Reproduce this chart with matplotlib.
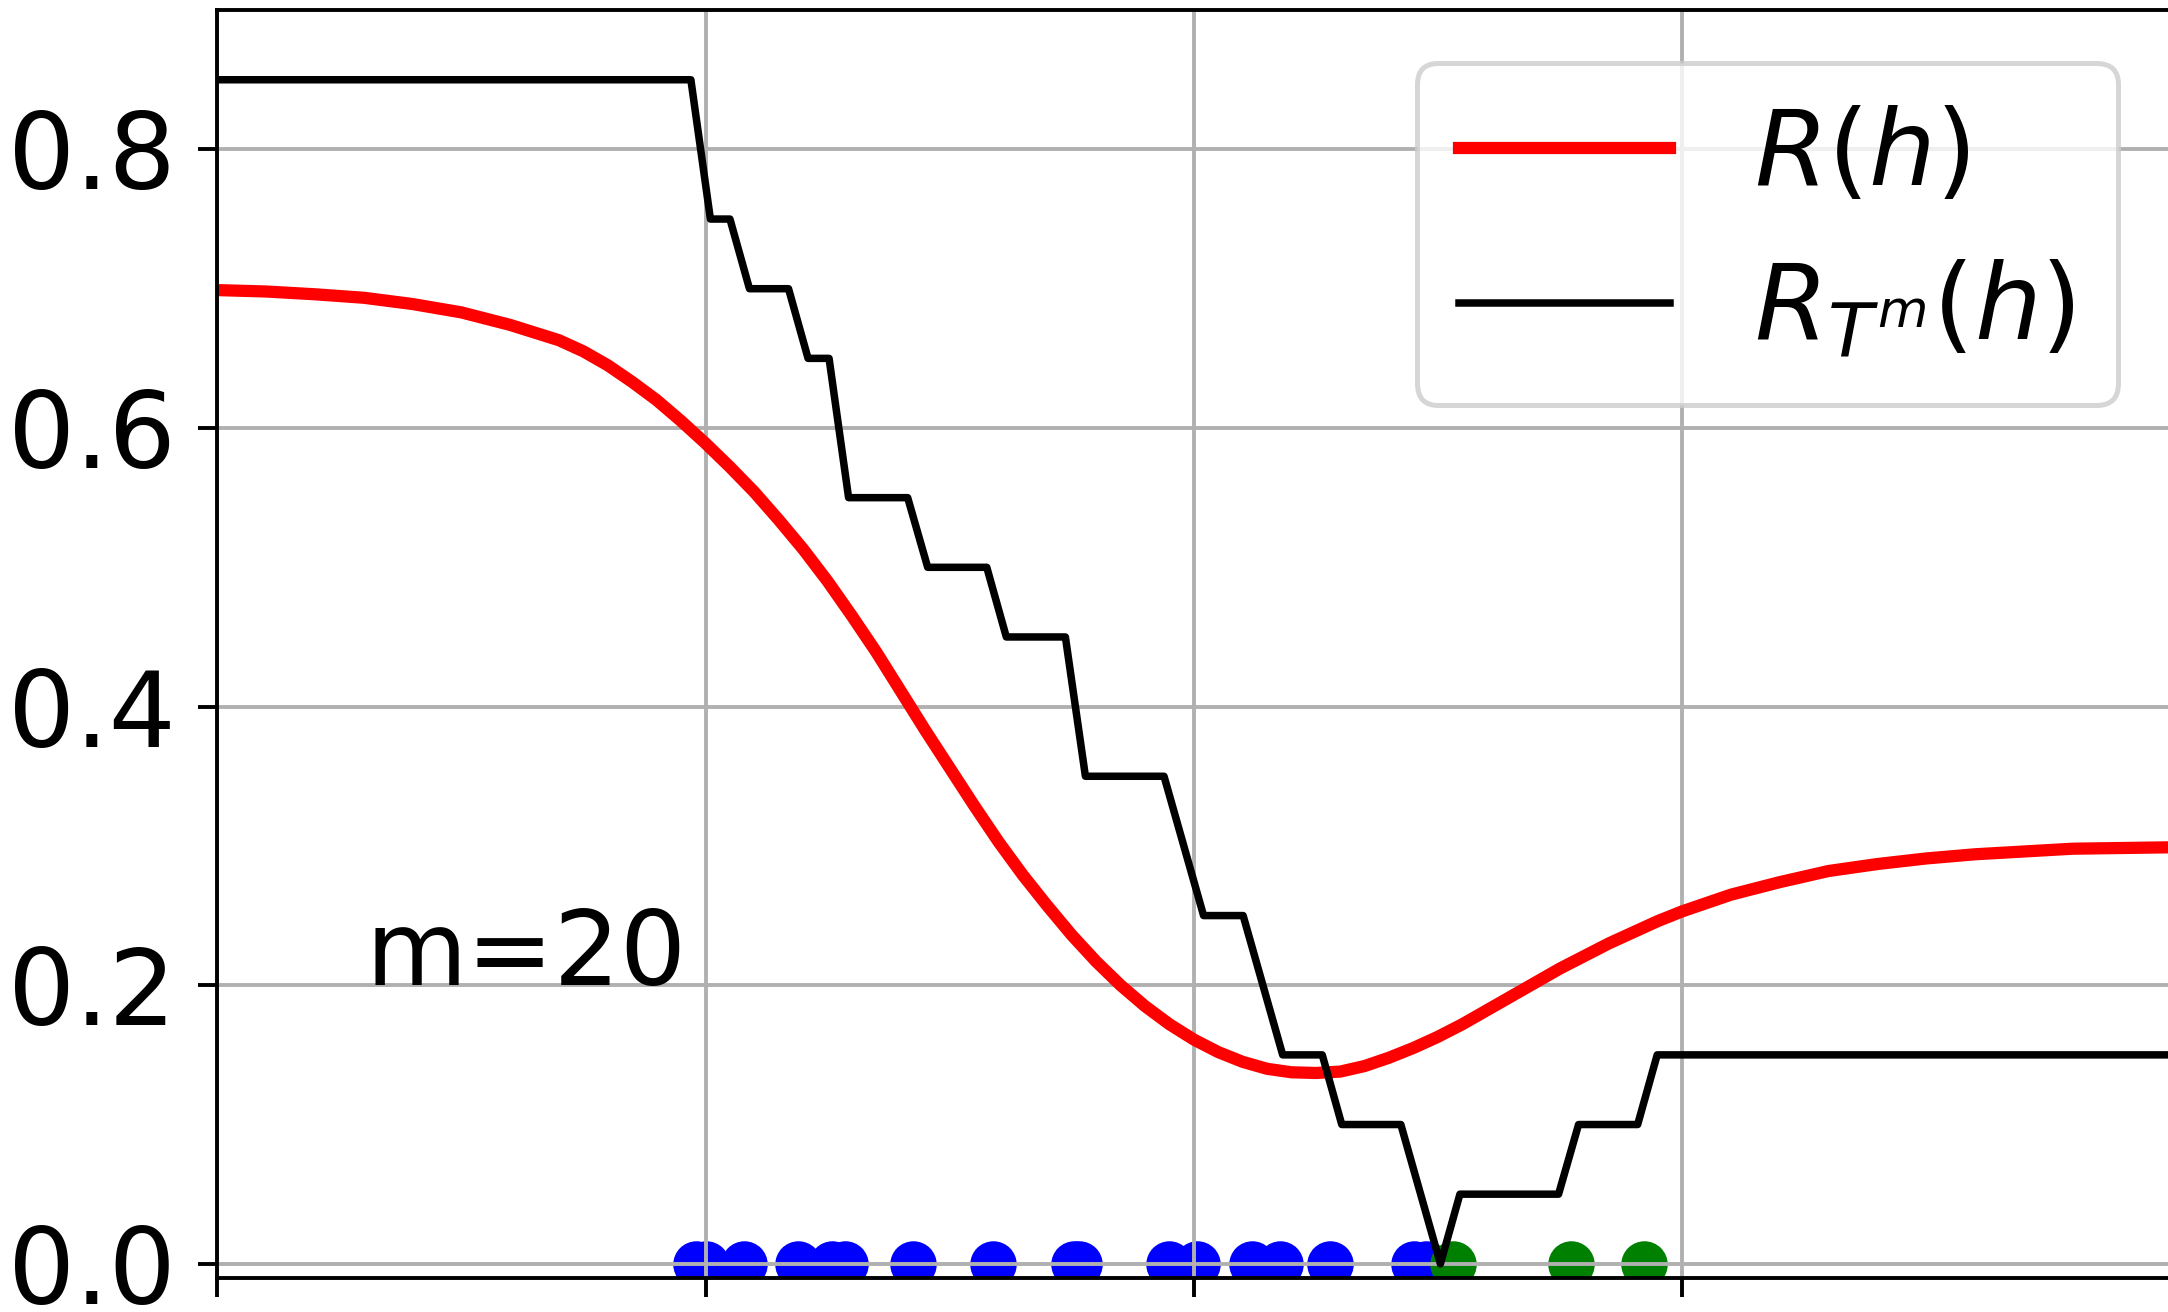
import matplotlib.pyplot as plt

# true risk R(h)
h_true = [-2.0, -1.9, -1.8, -1.7, -1.6, -1.5, -1.4, -1.3, -1.25, -1.2, -1.15,
          -1.1, -1.05, -1.0, -0.95, -0.9, -0.85, -0.8, -0.75, -0.7, -0.65,
          -0.6, -0.55, -0.5, -0.45, -0.4, -0.35, -0.3, -0.25, -0.2, -0.15,
          -0.1, -0.05, 0.0, 0.05, 0.1, 0.15, 0.2, 0.25, 0.3, 0.35, 0.4, 0.45,
          0.5, 0.55, 0.6, 0.65, 0.7, 0.75, 0.8, 0.85, 0.9, 0.95, 1.0, 1.1,
          1.2, 1.3, 1.4, 1.5, 1.6, 1.7, 1.8, 2.0]
risk_true = [0.699, 0.698, 0.696, 0.6935, 0.689, 0.683, 0.674, 0.663, 0.655,
             0.645, 0.633, 0.620, 0.605, 0.589, 0.572, 0.554, 0.534, 0.513,
             0.490, 0.465, 0.439, 0.411, 0.383, 0.356, 0.329, 0.303, 0.279,
             0.257, 0.236, 0.217, 0.200, 0.185, 0.172, 0.161, 0.152, 0.145,
             0.140, 0.1375, 0.137, 0.138, 0.142, 0.148, 0.155, 0.163, 0.172,
             0.182, 0.192, 0.202, 0.212, 0.221, 0.230, 0.238, 0.246, 0.253,
             0.265, 0.274, 0.282, 0.287, 0.291, 0.294, 0.296, 0.298, 0.299]

# empirical risk R_T^m(h), corners of the step line
h_emp = [-2.0, -1.03, -0.99, -0.95, -0.91, -0.83, -0.79, -0.747, -0.707,
         -0.586, -0.545, -0.424, -0.384, -0.263, -0.222, -0.061, 0.020,
         0.101, 0.182, 0.263, 0.303, 0.424, 0.505, 0.545, 0.747, 0.788,
         0.909, 0.949, 2.0]
risk_emp = [0.85, 0.85, 0.75, 0.75, 0.70, 0.70, 0.65, 0.65, 0.55, 0.55, 0.50,
            0.50, 0.45, 0.45, 0.35, 0.35, 0.25, 0.25, 0.15, 0.15, 0.10, 0.10,
            0.0, 0.05, 0.05, 0.10, 0.10, 0.15, 0.15]

# training sample (m = 20)
x_blue = [-1.02, -1.00, -0.921, -0.81, -0.74, -0.715, -0.575, -0.411,
          -0.245, -0.235, -0.051, 0.006, 0.119, 0.176, 0.278, 0.450, 0.475]
x_green = [0.530, 0.773, 0.921]

fig = plt.figure(figsize=(10.84, 6.56), dpi=200)
ax = fig.add_axes([0.1002, 0.0261, 0.9009, 0.9662])

ax.scatter(x_blue, [0] * len(x_blue), s=280, c='b', linewidths=0)
ax.scatter(x_green, [0] * len(x_green), s=280, c='g', linewidths=0)
ax.plot(h_true, risk_true, color='r', lw=4.4, label=r'$R(h)$')
ax.plot(h_emp, risk_emp, color='k', lw=2.7, label=r'$R_{T^m}(h)$')

ax.text(-1.697, 0.2, 'm=20', fontsize=37.5, ha='left', va='baseline')

ax.set_xlim(-2, 2)
ax.set_ylim(-0.01, 0.9)
ax.set_xticks([-2, -1, 0, 1, 2])
ax.set_yticks([0.0, 0.2, 0.4, 0.6, 0.8])
ax.tick_params(labelsize=38, length=7, width=1.4, pad=8, labelbottom=False)
ax.grid(True, color='#b0b0b0', lw=1.4)
for sp in ax.spines.values():
    sp.set_linewidth(1.4)

leg = ax.legend(loc='upper right', fontsize=38, handlelength=2.0)
leg.get_frame().set_linewidth(1.8)

fig.savefig('out.png', dpi=200)
